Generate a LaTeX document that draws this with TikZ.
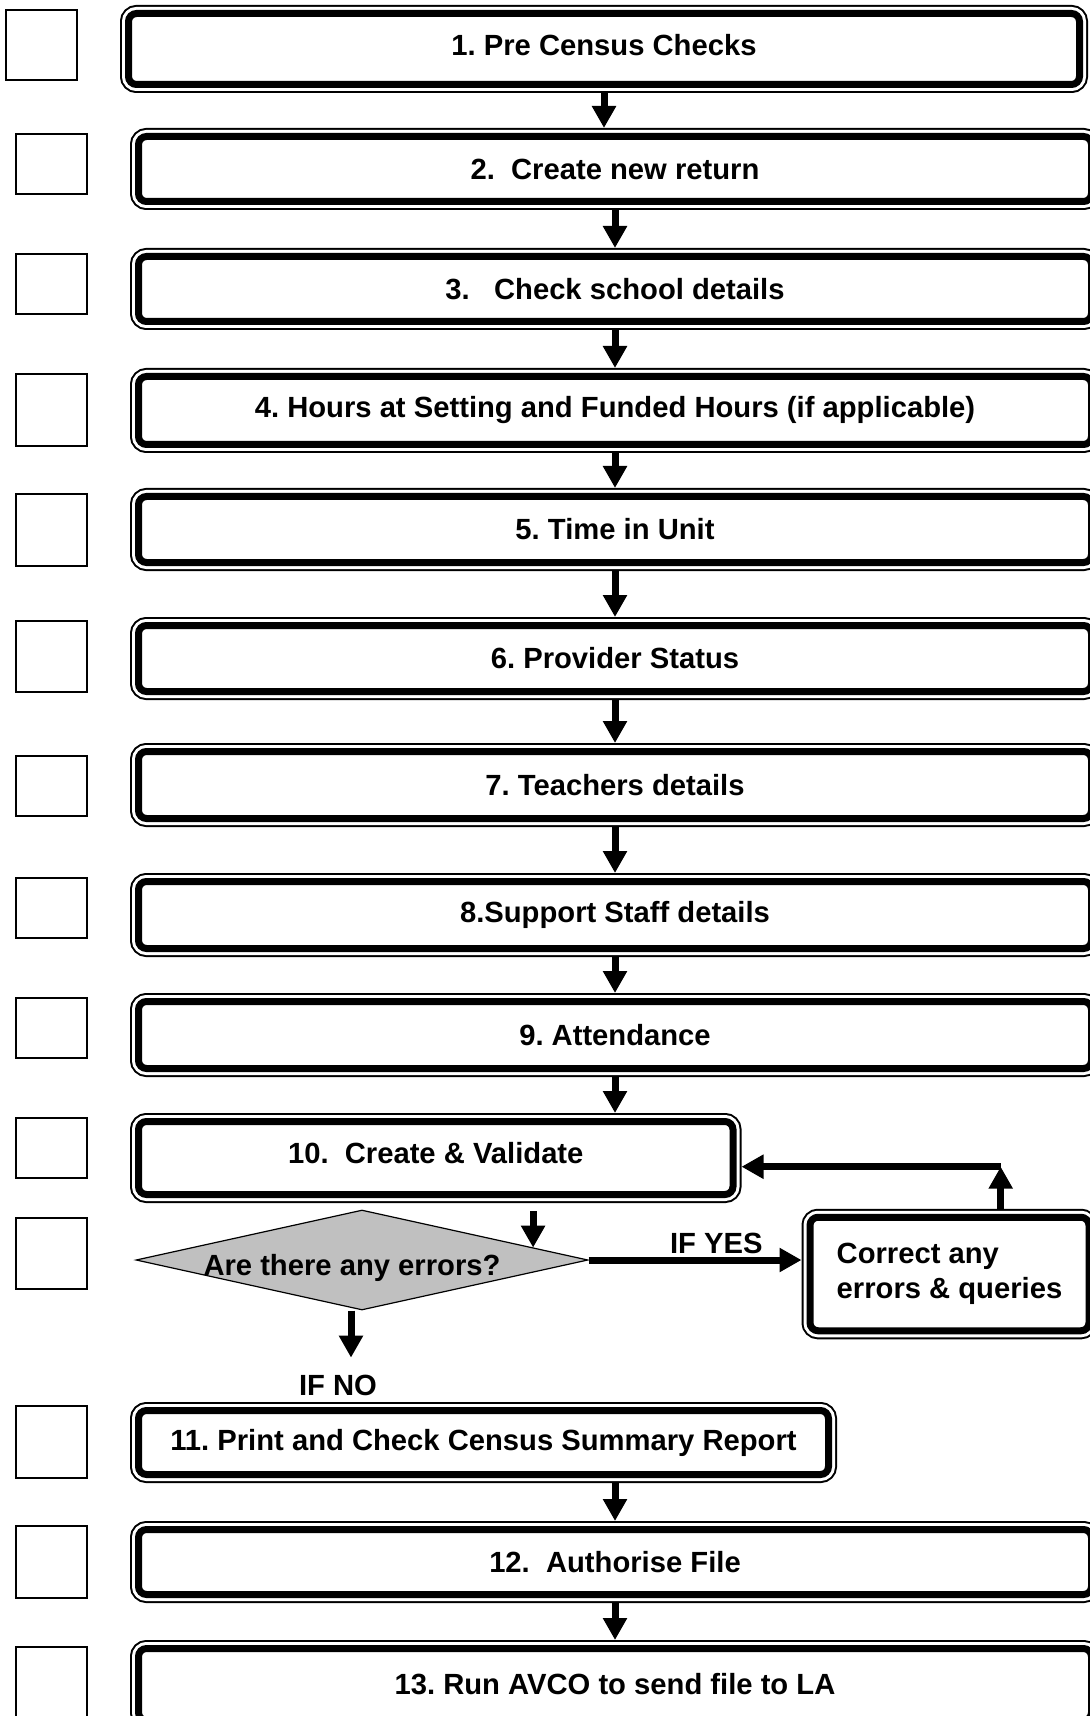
\documentclass[tikz,border=0pt]{standalone}
\usepackage{fontspec}
\setmainfont{Liberation Sans}
\usetikzlibrary{arrows.meta,positioning,shapes.geometric,calc}
\definecolor{silver}{HTML}{C0C0C0}
\frenchspacing

\begin{document}
\begin{tikzpicture}[
    x=0.5pt, y=-0.5pt,
    stage/.style={draw, fill=white, line width=3.5pt, rounded corners=4pt,
                  preaction={draw, line width=8.5pt},
                  preaction={draw=white, line width=6.5pt},
                  minimum width=476.5pt, minimum height=33pt, outer sep=4.25pt,
                  font=\fontsize{14.6}{17.5}\selectfont\bfseries},
    tick/.style={draw, line width=1pt, minimum width=35.5pt, minimum height=30pt,
                 inner sep=0pt},
    lbl/.style={font=\fontsize{14.6}{17.5}\selectfont\bfseries},
    arr/.style={line width=3.5pt, -{Triangle[length=11pt,width=11.5pt]}},
]
  \useasboundingbox (0,0) rectangle (1089,1716);

  % tick boxes
  \node[tick,minimum width=35.5pt,minimum height=35pt] (t1) at (41.5,45) {};
  \node[tick] (t2) at (51.5,164) {};
  \node[tick] (t3) at (51.5,284) {};
  \node[tick,minimum height=36pt] (t4) at (51.5,410) {};
  \node[tick,minimum height=36pt] (t5) at (51.5,530) {};
  \node[tick,minimum height=35.5pt] (t6) at (51.5,656.5) {};
  \node[tick] (t7) at (51.5,786) {};
  \node[tick] (t8) at (51.5,908) {};
  \node[tick] (t9) at (51.5,1028) {};
  \node[tick] (t10) at (51.5,1148) {};
  \node[tick,minimum height=35.5pt] (t11) at (51.5,1253.5) {};
  \node[tick,minimum height=36pt] (t12) at (51.5,1442) {};
  \node[tick,minimum height=36pt] (t13) at (51.5,1562) {};
  \node[tick,minimum height=36pt] (t14) at (51.5,1683) {};

  % stages
  \node[stage,minimum width=475.5pt,minimum height=35.5pt,text depth=4pt] (b1) at (604,49) {1. Pre Census Checks};
  \node[stage,minimum height=32.5pt] (b2) at (615,169) {2.\ \ Create new return};
  \node[stage,minimum height=32.5pt] (b3) at (615,289) {3.\ \ \ Check school details};
  \node[stage,minimum height=34pt] (b4) at (615,410.5) {4. Hours at Setting and Funded Hours (if applicable)};
  \node[stage] (b5) at (615,529.5) {5. Time in Unit};
  \node[stage] (b6) at (615,658.5) {6. Provider Status};
  \node[stage,minimum height=33.5pt] (b7) at (615,785) {7. Teachers details};
  \node[stage,minimum height=33.5pt] (b8) at (615,915) {8.Support Staff details};
  \node[stage,minimum height=33.5pt] (b9) at (615,1035) {9. Attendance};
  \node[stage,minimum width=297.25pt,minimum height=36.5pt,text depth=5.5pt] (b10) at (435.75,1158) {10.\ \ Create \& Validate};
  \node[diamond,draw,fill=silver,line width=0.6pt,aspect=4.5,minimum width=226pt,
        minimum height=50pt,inner sep=0pt] (err) at (362,1260) {};
  \node[lbl] (errq) at ([shift={(-10,7.5)}]err.center) {Are there any errors?};
  \node[stage,anchor=west,minimum width=0pt,minimum height=56.75pt,inner xsep=13.35pt,
        align=left] (fix) at (801.5,1274) {Correct any\\errors \& queries};
  \node[lbl] (ifno) at (338,1385) {IF NO};
  \node[stage,minimum width=345pt,minimum height=32pt] (b11) at (483.5,1442.5) {11. Print and Check Census Summary Report};
  \node[stage,minimum height=32.5pt] (b12) at (615,1562) {12.\ \ Authorise File};
  \node[stage,minimum height=36pt] (b13) at (615,1684.5) {13. Run AVCO to send file to LA};

  % flow
  \draw[arr] (b1.south) -- (b1.south |- b2.north);
  \draw[arr] (b2.south) -- (b3.north);
  \draw[arr] (b3.south) -- (b4.north);
  \draw[arr] (b4.south) -- (b5.north);
  \draw[arr] (b5.south) -- (b6.north);
  \draw[arr] (b6.south) -- (b7.north);
  \draw[arr] (b7.south) -- (b8.north);
  \draw[arr] (b8.south) -- (b9.north);
  \draw[arr] (b9.south) -- (b9.south |- b10.north);
  \coordinate (hit) at ($(err.north)!0.755!(err.east)$);
  \draw[arr,shorten <=4pt] (b10.south -| hit) -- (hit);
  \draw[arr] (err.east) -- (err.east -| fix.west)
    node[lbl,above,inner sep=1.5pt,pos=0.6] {IF YES};
  \coordinate (fb) at (1000.7,1166.7);
  \draw[arr] (fix.north -| fb) -- (fb);
  \draw[arr] (fb) -- (b10.east |- fb);
  \draw[arr,shorten >=5pt] ([xshift=-5.5pt]err.south) -- ([xshift=-5.5pt]err.south |- ifno.north);
  \draw[arr] (b11.south -| b12.north) -- (b12.north);
  \draw[arr] (b12.south) -- (b13.north);
\end{tikzpicture}
\end{document}
